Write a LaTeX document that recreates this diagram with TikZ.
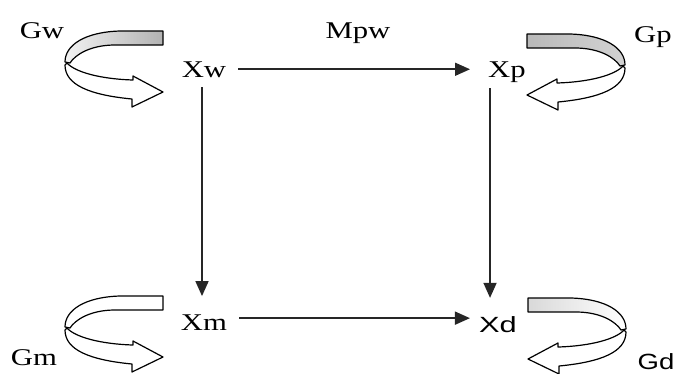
\documentclass[tikz,border=0pt]{standalone}
\usepackage{fontspec}
\setmainfont{Liberation Serif}
\newfontfamily\sansf{Liberation Sans}
\usetikzlibrary{arrows.meta,calc}

% horizontally widened label text
\newcommand\widetxt[2][1.28]{\scalebox{#1}[1]{#2}}

\tikzset{
  lbl/.style={inner sep=0pt, anchor=base, font=\fontsize{24}{24}\selectfont},
  slbl/.style={inner sep=0pt, anchor=base, font=\sansf\fontsize{22}{22}\selectfont},
  conn/.style={-{Triangle[length=15pt,width=13pt]}, line width=1.6pt, draw=black!85},
  ribbon/.style={line width=1.2pt, draw=black, line join=round},
  curlback/.style={fill=white},
  % curled ribbon arrow: tail end at the origin, curling left and back
  curl/.pic={
    \path[ribbon, curlback]
      (0,7) -- (-43,7) .. controls (-78,6) and (-98,-7) .. (-98,-24)
      -- (-93,-25) .. controls (-88,-17) and (-73,-7) .. (-48,-7)
      -- (0,-7) -- cycle;
    \path[ribbon, fill=white]
      (-96,-25) .. controls (-88,-34) and (-63,-41) .. (-30,-42)
      -- (-30,-38) -- (0,-54) -- (-31,-69) -- (-31,-61)
      .. controls (-73,-57) and (-98,-47) .. (-98,-27) -- cycle;
  }
}

\begin{document}
\begin{tikzpicture}[x=1pt,y=1pt]
\useasboundingbox (0,0) rectangle (677,-373);

% curled self-loops
\pic[curlback/.style={left color=gray!10, right color=gray!60}] at (163,-38) {curl};
\pic[xscale=-1, curlback/.style={left color=gray!55, right color=gray!35}] at (527,-41) {curl};
\pic at (163,-303) {curl};
\pic[xscale=-1, curlback/.style={left color=gray!30, right color=white}] at (528,-305) {curl};

% state nodes
\node[lbl] (Xw) at (204,-77) {\widetxt{Xw}};
\node[lbl] (Xp) at (507,-77) {\widetxt{Xp}};
\node[lbl] (Xm) at (204,-330) {\widetxt{Xm}};
\node[slbl] (Xd) at (498,-332) {\widetxt[1.4]{Xd}};

% rate labels
\node[lbl] (Gw) at (42,-38) {\widetxt{Gw}};
\node[lbl] (Mpw) at (358,-38) {\widetxt{Mpw}};
\node[lbl] (Gp) at (653,-42) {\widetxt{Gp}};
\node[lbl] (Gm) at (34,-365) {\widetxt{Gm}};
\node[slbl] (Gd) at (656,-369) {\widetxt[1.25]{Gd}};

% transfers
\draw[conn] ($(Xw.east)+(12,0)$) -- ($(Xw.east -| Xp.west)+(-18,0)$);
\draw[conn] ($(Xm.east)+(12,4)$) -- ($(Xm.east -| Xd.west)+(-9,4)$);
\draw[conn] ($(Xw.south)+(-2,-10)$) -- ($(Xw.south |- Xm.north)+(-2,18)$);
\draw[conn] ($(Xp.south west)+(2,-6)$) -- ($(Xp.south west |- Xd.north)+(2,18)$);
\end{tikzpicture}
\end{document}
